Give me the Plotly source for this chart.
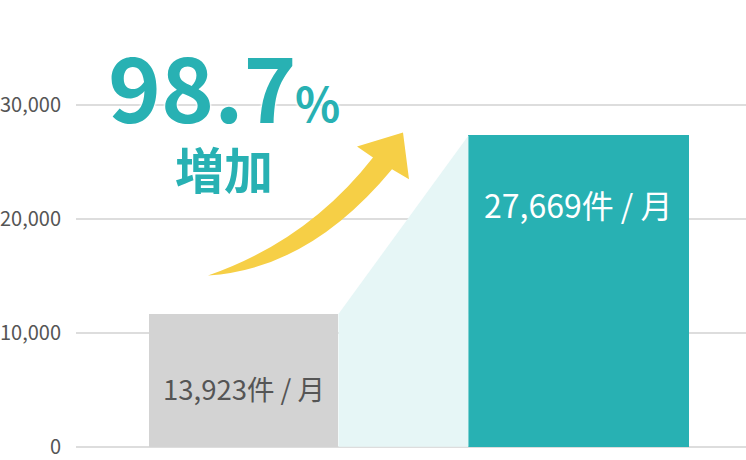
import plotly.graph_objects as go

# ---------------------------------------------------------------------------
# Données (hauteurs, libellés tels qu'affichés)
# ---------------------------------------------------------------------------
periods = ["avant", "après"]
bar_pos = [0, 1]
bar_values = [11650, 27300]
bar_widths = [0.567, 0.657]
bar_labels = ["13,923件 / 月", "27,669件 / 月"]
y_ticks = [0, 10000, 20000, 30000]
y_tick_text = ["0", "10,000", "20,000", "30,000"]
growth_text = "98.7"

COLORS = {
    "before": "#D3D3D3",
    "after": "#28B1B3",
    "band": "#E6F6F6",
    "grid": "#DDDDDD",
    "arrow": "#F6CF46",
    "text": "#555555",
}
FONT = "Noto Sans CJK JP"

# mise en page (pixels)
W, H = 746, 460
M_L, M_R, M_T, M_B = 76, 0, 82, 9
X_RANGE = [-0.5, 1.5]
Y_RANGE = [-100, 31990]


def px_x(px):
    """pixel horizontal -> unité de l'axe x"""
    w = W - M_L - M_R
    return X_RANGE[0] + (px - M_L) / w * (X_RANGE[1] - X_RANGE[0])


def px_y(py):
    """pixel vertical -> unité de l'axe y"""
    h = H - M_T - M_B
    return Y_RANGE[0] + (H - M_B - py) / h * (Y_RANGE[1] - Y_RANGE[0])


fig = go.Figure()

# bande claire entre les deux barres
x_left = bar_pos[0] + bar_widths[0] / 2
x_right = bar_pos[1] - bar_widths[1] / 2
fig.add_trace(go.Scatter(
    x=[x_left, x_left, x_right, x_right, x_left],
    y=[0, bar_values[0], bar_values[1], 0, 0],
    fill="toself", fillcolor=COLORS["band"],
    line=dict(width=0), mode="lines", hoverinfo="skip", showlegend=False,
))

fig.add_trace(go.Bar(
    x=bar_pos, y=bar_values, width=bar_widths,
    marker=dict(color=[COLORS["before"], COLORS["after"]], line=dict(width=0)),
    customdata=periods, hovertemplate="%{customdata}<extra></extra>",
    showlegend=False,
))

# flèche jaune (décor)
tail = (208, 277)
up_join, up_ctrl = (373, 158), (308, 242)
lo_join, lo_ctrl = (392, 170), (309, 271)
barb_l, tip, barb_r = (357, 147), (403, 133), (409, 180)


def pt(p):
    return f"{px_x(p[0])},{px_y(p[1])}"


arrow_path = (
    f"M {pt(tail)} Q {pt(up_ctrl)} {pt(up_join)} L {pt(barb_l)} L {pt(tip)} "
    f"L {pt(barb_r)} L {pt(lo_join)} Q {pt(lo_ctrl)} {pt(tail)} Z"
)
fig.add_shape(type="path", path=arrow_path, xref="x", yref="y",
              fillcolor=COLORS["arrow"], line=dict(width=0), layer="above")

halo = "0 0 3px #fff, 0 0 3px #fff, 0 0 3px #fff"
annotations = [
    dict(x=bar_pos[0], y=px_y(391), text=bar_labels[0], showarrow=False,
         font=dict(family=FONT, size=27.5, color=COLORS["text"])),
    dict(x=bar_pos[1], y=px_y(205), text=bar_labels[1], showarrow=False,
         font=dict(family=FONT, size=32, color="white")),
    dict(x=px_x(299), y=px_y(84), text=f"<b>{growth_text}</b>",
         showarrow=False, xanchor="right",
         font=dict(family=FONT, size=90, color=COLORS["after"], shadow=halo)),
    dict(x=px_x(293), y=px_y(102), text="<b>%</b>",
         showarrow=False, xanchor="left",
         font=dict(family=FONT, size=47, color=COLORS["after"], shadow=halo)),
    dict(x=px_x(224), y=px_y(168), text="<b>増加</b>", showarrow=False,
         font=dict(family=FONT, size=49, color=COLORS["after"])),
]

fig.update_layout(
    width=W, height=H,
    margin=dict(l=M_L, r=M_R, t=M_T, b=M_B),
    paper_bgcolor="white", plot_bgcolor="white",
    xaxis=dict(range=X_RANGE, visible=False, fixedrange=True),
    yaxis=dict(
        range=Y_RANGE, tickvals=y_ticks, ticktext=y_tick_text,
        showgrid=True, gridcolor=COLORS["grid"], gridwidth=2,
        zeroline=False, showline=False, ticks="",
        ticklabelstandoff=14, ticklabeloverflow="allow",
        tickfont=dict(family=FONT, size=20, color=COLORS["text"]),
        fixedrange=True,
    ),
    annotations=annotations,
    bargap=0,
)

# la page HTML garde 8 px de marge par défaut : on la retire
fig.write_html("out.html", config={"displayModeBar": False},
               post_script="document.body.style.margin='0';")
